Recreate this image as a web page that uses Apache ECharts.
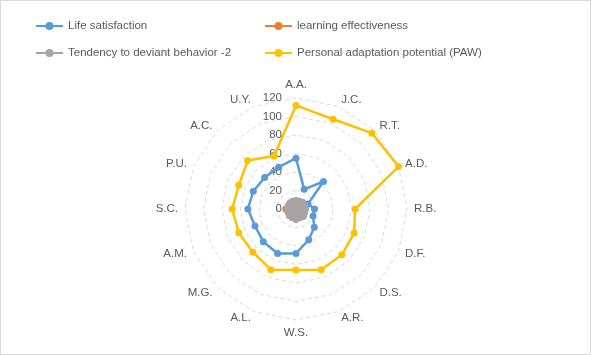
<!DOCTYPE html>
<html><head><meta charset="utf-8">
<script src="https://cdn.jsdelivr.net/npm/echarts@6/dist/echarts.min.js"></script>
<style>
html,body{margin:0;padding:0;background:#fff;}
#c{width:591px;height:355px;box-sizing:border-box;border:1px solid #d9d9d9;}
</style></head>
<body><div id="c"></div>
<script>
const categories = ['A.A.','J.C.','R.T.','A.D.','R.B.','D.F.','D.S.','A.R.','W.S.','A.L.','M.G.','A.M.','S.C.','P.U.','A.C.','U.Y.'];
const lifeSatisfaction = [55,23,42,14,20,20,28,36,48,52,50,48,52,50,48,49];
const learningEffectiveness = [9,9,10,10,10,10,11,10,11,10,10,9,11,9,9,9];
const deviantTendency = [9,9,10,10,10,10,11,10,11,10,10,9,9,9,9,9];
const adaptationPotential = [112,105,116,120,64,68,70,71,66,71,66,67,69,67,74,62];
const seriesNames = ['Life satisfaction','learning effectiveness','Tendency to deviant behavior -2','Personal adaptation potential (PAW)'];
const colors = ['#5B9BD5','#ED7D31','#A5A5A5','#FFC000'];
const axisMin = 0, axisMax = 120, axisStep = 20;

// ECharts radar runs counter-clockwise; reorder so categories run clockwise like the original
const order = [0].concat(categories.map((_,i)=>i).slice(1).reverse());
const reorder = arr => order.map(i=>arr[i]);

const chart = echarts.init(document.getElementById('c'), null, {renderer:'canvas'});
const font = "'Liberation Sans', Arial, sans-serif";
const indicator = reorder(categories).map((c,i)=>({
  name:c, min:axisMin, max:axisMax,
  axisLabel: i===0 ? {show:true} : {show:false}
}));
const values = [lifeSatisfaction, learningEffectiveness, deviantTendency, adaptationPotential];
const iconPath = 'path://M0,3 L10,3 L10,5 L0,5 Z M17,3 L27,3 L27,5 L17,5 Z M9.5,4 A4,4 0 1,1 17.5,4 A4,4 0 1,1 9.5,4 Z';
function legend(i, left, top){
  return {data:[{name:seriesNames[i], icon:iconPath}], left:left, top:top, padding:0,
    itemWidth:27, itemHeight:8, itemGap:5,
    textStyle:{color:'#595959', fontSize:11.5, fontFamily:font}, selectedMode:false};
}
chart.setOption({
  animation:false,
  color:colors,
  legend:[legend(0,35,19), legend(1,264,19), legend(2,35,46), legend(3,264,46)],
  radar:{
    center:[295,208], radius:111, startAngle:90,
    shape:'polygon', splitNumber:(axisMax-axisMin)/axisStep,
    indicator:indicator,
    axisName:{color:'#595959', fontSize:11.5, fontFamily:font},
    nameGap:7,
    axisLine:{show:false},
    axisTick:{show:false},
    splitArea:{show:false},
    splitLine:{lineStyle:{color:'#d9d9d9', type:[4,3], width:1}},
    axisLabel:{show:false, color:'#595959', fontSize:11.5, fontFamily:font, margin:14}
  },
  series:[{
    type:'radar',
    data: values.map((v,i)=>({
      name:seriesNames[i], value:reorder(v),
      lineStyle:{color:colors[i], width:2.5},
      itemStyle:{color:colors[i]},
      areaStyle: i===2 ? {color:colors[i], opacity:1} : undefined,
      symbol:'circle', symbolSize:7
    }))
  }]
});
</script></body></html>
